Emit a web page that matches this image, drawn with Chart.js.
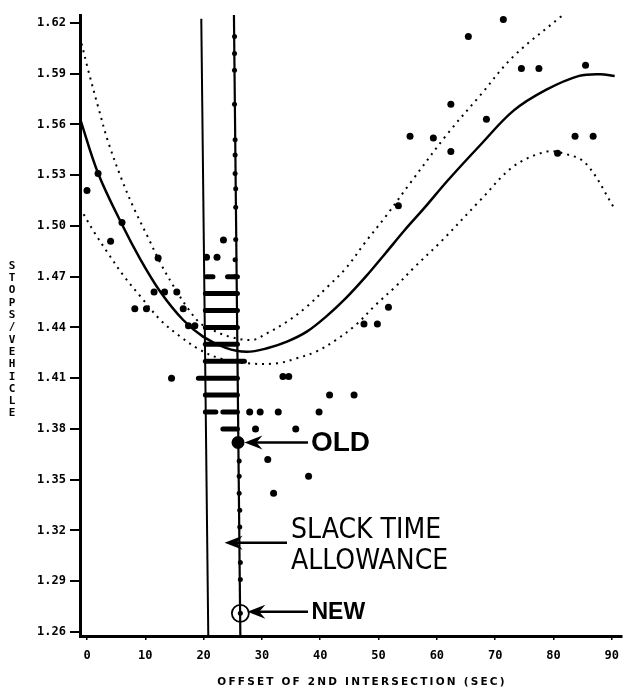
<!DOCTYPE html>
<html>
<head>
<meta charset="utf-8">
<script src="https://cdn.jsdelivr.net/npm/chart.js@4.4.1/dist/chart.umd.min.js"></script>
<style>
  html, body { margin: 0; padding: 0; background: #fff; }
  #wrap { width: 632px; height: 688px; position: relative; }
</style>
</head>
<body>
<div id="wrap"><canvas id="grafico"></canvas></div>
<script>
// axis ticks
var xTicks = [0, 10, 20, 30, 40, 50, 60, 70, 80, 90];
var yTicks = [1.26, 1.29, 1.32, 1.35, 1.38, 1.41, 1.44, 1.47, 1.50, 1.53, 1.56, 1.59, 1.62];

// fitted curve and the two dotted bounds
var fitX = [-1.2, 1.9, 5.9, 9.2, 12.6, 16.5, 19.9, 23.8, 27.4, 30.9, 34.3, 37.7, 41.0, 44.4, 47.8,
            51.2, 54.5, 57.9, 61.9, 67.5, 73.1, 78.7, 84.4, 88, 90.5];
var fitY = [1.5635, 1.5312, 1.5016, 1.480, 1.461, 1.4444, 1.4346, 1.4279, 1.4256, 1.4277, 1.4316, 1.4375, 1.4464, 1.4573, 1.470,
            1.4839, 1.4976, 1.5108, 1.527, 1.548, 1.568, 1.5804, 1.5887, 1.5897, 1.5887];
var upperX = [-1.5, 0.2, 1.9, 3.6, 5.9, 8.1, 10.4, 12.6, 14.9, 17.1, 19.4, 21.5, 24.5, 28.4, 30.9, 34.3,
              37.7, 41, 44.4, 47.8, 51.2, 55.4, 61.9, 67.5, 73.1, 81.6];
var upperY = [1.6159, 1.5922, 1.5705, 1.550, 1.528, 1.510, 1.4937, 1.478, 1.4641, 1.4523, 1.4425, 1.4385, 1.4345, 1.4326, 1.4366, 1.4434,
              1.4523, 1.4632, 1.475, 1.4907, 1.5055, 1.5252, 1.5548, 1.5775, 1.6001, 1.6247];
var lowerX = [-1.2, 1.35, 3.6, 6.4, 9.2, 12.6, 16, 19.4, 23, 27.5, 32.6, 36, 39.3, 42.7, 46.1, 49.5,
              52.9, 56.2, 60.7, 67.5, 73.1, 78.7, 81.6, 85.5, 90.6];
var lowerY = [1.5105, 1.4957, 1.4839, 1.47, 1.4582, 1.4444, 1.4346, 1.4267, 1.4215, 1.4188, 1.4188, 1.4218, 1.4257, 1.4326, 1.4415, 1.4533,
              1.4641, 1.4758, 1.4907, 1.5154, 1.5351, 1.5439, 1.543, 1.5371, 1.5095];

// observed runs
var obsX = [0, 1.9, 4.05, 6, 8.2, 10.2, 11.5, 12.2, 13.3, 15.4, 16.5, 17.4, 18.5, 14.5,
            20.5, 22.3, 23.4, 27.9, 29.7, 32.8, 28.9, 35.8, 31, 38, 32, 33.6, 34.6, 41.6, 45.8, 39.8,
            47.5, 49.8, 51.7, 53.4, 55.4, 59.4, 62.4, 62.4, 65.4, 68.5, 71.4, 74.5, 77.5, 80.7, 83.7, 86.8, 85.5];
var obsY = [1.521, 1.531, 1.491, 1.502, 1.451, 1.451, 1.461, 1.481, 1.461, 1.461, 1.451, 1.441, 1.441, 1.41,
            1.4815, 1.4815, 1.4917, 1.39, 1.39, 1.39, 1.38, 1.38, 1.362, 1.352, 1.342, 1.411, 1.411, 1.40, 1.40, 1.39,
            1.442, 1.442, 1.452, 1.512, 1.553, 1.552, 1.572, 1.544, 1.612, 1.563, 1.622, 1.593, 1.593, 1.543, 1.553, 1.553, 1.595];

// runs along the right-hand limit line
var colX = [25.3, 25.3, 25.3, 25.3, 25.4, 25.4, 25.4, 25.5, 25.5, 25.5, 25.4, 25.4,
            26.1, 26.1, 26.1, 26.2, 26.2, 26.3, 26.3, 26.3];
var colY = [1.612, 1.602, 1.592, 1.572, 1.551, 1.542, 1.531, 1.522, 1.511, 1.492, 1.48, 1.47,
            1.361, 1.352, 1.342, 1.332, 1.322, 1.301, 1.291, 1.271];

// dense rows of runs between the two limit lines
var bandY     = [1.47, 1.47, 1.46, 1.45, 1.44, 1.43, 1.42, 1.41, 1.40, 1.39, 1.39, 1.38];
var bandStart = [20.5, 24.1, 20.3, 20.3, 20.3, 20.3, 20.3, 19.1, 20.3, 20.3, 23.3, 23.3];
var bandEnd   = [21.6, 25.8, 25.8, 25.8, 25.8, 25.8, 27.0, 25.8, 25.8, 22.1, 25.8, 25.8];

// the two limit lines (scan is slightly tilted)
var leftLimitX = [20.8, 19.6];
var leftLimitY = [1.2576, 1.6225];
var rightLimitX = [26.3, 25.2];
var rightLimitY = [1.2576, 1.6247];

var oldPoint = { x: 25.9, y: 1.372 };
var newPoint = { x: 26.3, y: 1.271 };

function pares(xs, ys) {
  return xs.map(function(x, i) { return { x: x, y: ys[i] }; });
}

var datasets = [];
datasets.push({ data: pares(fitX, fitY), showLine: true, borderColor: '#000', borderWidth: 2.5,
  pointRadius: 0, tension: 0.35 });
datasets.push({ data: pares(upperX, upperY), showLine: true, borderColor: '#000', borderWidth: 2,
  borderDash: [2, 5], pointRadius: 0, tension: 0.35 });
datasets.push({ data: pares(lowerX, lowerY), showLine: true, borderColor: '#000', borderWidth: 2,
  borderDash: [2, 5], pointRadius: 0, tension: 0.35 });
datasets.push({ data: pares(leftLimitX, leftLimitY), showLine: true, borderColor: '#000', borderWidth: 2, pointRadius: 0 });
datasets.push({ data: pares(rightLimitX, rightLimitY), showLine: true, borderColor: '#000', borderWidth: 2.2, pointRadius: 0 });
bandY.forEach(function(y, i) {
  datasets.push({ data: [{ x: bandStart[i], y: y }, { x: bandEnd[i], y: y }], showLine: true,
    borderColor: '#000', borderWidth: 5, borderCapStyle: 'round', pointRadius: 0 });
});
datasets.push({ data: pares(obsX, obsY), pointRadius: 3.5, backgroundColor: '#000', borderWidth: 0 });
datasets.push({ data: pares(colX, colY), pointRadius: 2.5, backgroundColor: '#000', borderWidth: 0 });
datasets.push({ data: [oldPoint], pointRadius: 6.5, backgroundColor: '#000', borderWidth: 0 });
datasets.push({ data: [newPoint], pointRadius: 8.5, backgroundColor: 'rgba(0,0,0,0)', borderColor: '#000', borderWidth: 1.8 });

// annotations in data units
var notas = [
  { texto: ['OLD'], x: 38.4, y: 1.372, font: 'bold 28px "Liberation Sans", Arial, sans-serif', flechaDesde: 37.9, flechaHasta: 27.0 },
  { texto: ['SLACK TIME', 'ALLOWANCE'], x: 35.0, y: 1.3127, font: '28px "Liberation Sans Narrow", "DejaVu Sans Condensed", sans-serif', flechaDesde: 34.3, flechaHasta: 23.6 },
  { texto: ['NEW'], x: 38.5, y: 1.272, font: 'bold 23px "Liberation Sans", Arial, sans-serif', flechaDesde: 37.9, flechaHasta: 27.5 }
];

var yTitle = 'STOPS/VEHICLE';
var xTitle = 'OFFSET OF 2ND INTERSECTION (SEC)';

var anotaciones = {
  id: 'anotaciones',
  afterDatasetsDraw: function(chart) {
    var ctx = chart.ctx;
    var sx = chart.scales.x, sy = chart.scales.y;
    ctx.save();
    ctx.fillStyle = '#000';
    ctx.strokeStyle = '#000';
    notas.forEach(function(n) {
      var py = sy.getPixelForValue(n.y);
      var x0 = sx.getPixelForValue(n.flechaDesde);
      var x1 = sx.getPixelForValue(n.flechaHasta);
      ctx.lineWidth = 2.5;
      ctx.beginPath();
      ctx.moveTo(x0, py);
      ctx.lineTo(x1 + 10, py);
      ctx.stroke();
      ctx.beginPath();
      ctx.moveTo(x1, py);
      ctx.lineTo(x1 + 18, py - 7);
      ctx.lineTo(x1 + 12, py);
      ctx.lineTo(x1 + 18, py + 7);
      ctx.closePath();
      ctx.fill();
      ctx.font = n.font;
      ctx.textBaseline = 'middle';
      ctx.textAlign = 'left';
      var tx = sx.getPixelForValue(n.x);
      if (n.texto.length === 1) {
        ctx.fillText(n.texto[0], tx, py + 1);
      } else {
        ctx.fillText(n.texto[0], tx, py - 12);
        ctx.fillText(n.texto[1], tx, py + 19);
      }
    });
    ctx.restore();
  },
  afterDraw: function(chart) {
    var ctx = chart.ctx;
    ctx.save();
    ctx.fillStyle = '#000';
    ctx.font = 'bold 11px "DejaVu Sans Mono", monospace';
    ctx.textAlign = 'center';
    ctx.textBaseline = 'middle';
    for (var i = 0; i < yTitle.length; i++) {
      ctx.fillText(yTitle[i], 12, 266 + i * 12.3);
    }
    ctx.font = 'bold 10.5px "DejaVu Sans", sans-serif';
    ctx.letterSpacing = '2.2px';
    ctx.textBaseline = 'alphabetic';
    ctx.fillText(xTitle, 362, 685);
    ctx.restore();
  }
};

new Chart(document.getElementById('grafico'), {
  type: 'scatter',
  data: { datasets: datasets },
  options: {
    responsive: true,
    maintainAspectRatio: false,
    animation: false,
    layout: { padding: { top: 15, right: 2, left: 0, bottom: 0 } },
    plugins: { legend: { display: false }, tooltip: { enabled: false } },
    scales: {
      x: {
        min: -1.2, max: 91.7,
        afterBuildTicks: function(axis) { axis.ticks = xTicks.map(function(v) { return { value: v }; }); },
        afterFit: function(axis) { axis.height = 52; },
        border: { color: '#000', width: 3 },
        grid: { drawOnChartArea: false, color: '#000', lineWidth: 1.5, tickLength: 4 },
        ticks: { color: '#000', padding: 9, maxRotation: 0,
          font: { family: 'DejaVu Sans Mono', weight: 'bold', size: 12 } }
      },
      y: {
        min: 1.2576, max: 1.6247,
        afterBuildTicks: function(axis) { axis.ticks = yTicks.map(function(v) { return { value: v }; }); },
        afterFit: function(axis) { axis.width = 80; },
        border: { color: '#000', width: 3 },
        grid: { drawOnChartArea: false, color: '#000', lineWidth: 2, tickLength: 10 },
        ticks: { color: '#000', padding: 4,
          font: { family: 'DejaVu Sans Mono', weight: 'bold', size: 12 },
          callback: function(v) { return v.toFixed(2); } }
      }
    }
  },
  plugins: [anotaciones]
});
</script>
</body>
</html>
